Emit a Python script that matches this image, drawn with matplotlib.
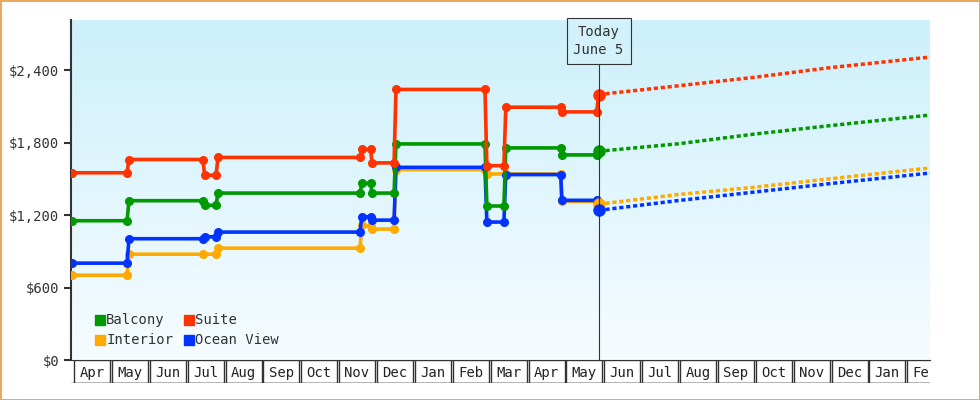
import numpy as np
import matplotlib
matplotlib.use("Agg")
from matplotlib import pyplot as plt
from matplotlib.patches import Rectangle
from matplotlib.colors import LinearSegmentedColormap

plt.rcParams['font.family'] = ['DejaVu Sans Mono']

months = ["Apr", "May", "Jun", "Jul", "Aug", "Sep", "Oct", "Nov", "Dec", "Jan", "Feb", "Mar",
          "Apr", "May", "Jun", "Jul", "Aug", "Sep", "Oct", "Nov", "Dec", "Jan", "Feb"]

# x in months since start of April, y in dollars
suite_x = [0, 1.45, 1.5, 3.45, 3.5, 3.8, 3.85, 7.6, 7.65, 7.88, 7.92, 8.5, 8.55, 10.9, 10.95, 11.4, 11.45, 12.9, 12.93, 13.85, 13.9]
suite_y = [1550, 1550, 1660, 1660, 1530, 1530, 1677, 1677, 1743, 1743, 1632, 1632, 2240, 2240, 1609, 1609, 2093, 2093, 2054, 2054, 2198]
balc_x = suite_x
balc_y = [1153, 1153, 1319, 1319, 1280, 1280, 1382, 1382, 1462, 1462, 1382, 1382, 1789, 1789, 1275, 1275, 1756, 1756, 1698, 1698, 1728]
int_x = [0, 1.45, 1.5, 3.45, 3.8, 3.85, 7.6, 7.65, 7.88, 7.92, 8.5, 8.55, 10.9, 10.95, 11.45, 12.9, 12.93, 13.85, 13.9]
int_y = [702, 702, 876, 876, 876, 926, 926, 1115, 1106, 1084, 1084, 1576, 1576, 1540, 1540, 1540, 1313, 1313, 1290]
ocean_x = suite_x
ocean_y = [802, 802, 1004, 1004, 1020, 1020, 1059, 1059, 1186, 1186, 1158, 1158, 1595, 1595, 1142, 1142, 1535, 1535, 1322, 1322, 1239]

fc_x = [13.9, 16.0, 18.0, 20.0, 22.65]
fc_suite = [2198, 2270, 2340, 2420, 2508]
fc_balc = [1728, 1790, 1870, 1940, 2028]
fc_int = [1290, 1370, 1430, 1500, 1590]
fc_ocean = [1239, 1320, 1390, 1460, 1548]

today_x = 13.9

fig = plt.figure(figsize=(9.8, 4.0), dpi=100)
fig.patch.set_edgecolor('#e8a860')
fig.patch.set_linewidth(2)
ax = fig.add_axes([71/980, 40/400, 859/980, 340/400])
xlim = (-0.03, 22.65)
ylim = (0, 2815)
grad = np.linspace(0, 1, 256).reshape(-1, 1)
cm = LinearSegmentedColormap.from_list('bg', ['#cdf0fb', '#f6fcff'])
ax.imshow(grad, cmap=cm, aspect='auto', origin='upper',
          extent=[xlim[0], xlim[1], ylim[0], ylim[1]], zorder=0)

series = [("Balcony", "#009900", balc_x, balc_y, fc_balc),
          ("Suite", "#ff3300", suite_x, suite_y, fc_suite),
          ("Interior", "#ffaa00", int_x, int_y, fc_int),
          ("Ocean View", "#0033ff", ocean_x, ocean_y, fc_ocean)]
order = [2, 3, 0, 1]
for i in order:
    name, c, xs, ys, fc = series[i]
    ax.plot(xs, ys, color=c, lw=2.6, marker='o', ms=5.5, zorder=3)
    ax.plot(fc_x, fc, color=c, lw=2.5, ls=(0, (1.2, 0.8)), zorder=3)
    ax.plot([xs[-1]], [ys[-1]], 'o', color=c, ms=8, zorder=4)

ax.set_xlim(*xlim)
ax.set_ylim(*ylim)
ax.set_yticks([0, 600, 1200, 1800, 2400])
ax.set_yticklabels(["$0", "$600", "$1,200", "$1,800", "$2,400"], fontsize=10, color='#333333')
ax.set_xticks([])
for s in ['top', 'right']:
    ax.spines[s].set_visible(False)
ax.spines['left'].set_linewidth(1.5)
ax.spines['left'].set_color('#333333')
ax.spines['bottom'].set_color('#333333')
ax.tick_params(axis='y', length=5, width=1.5, color='#333333')

ax.axvline(today_x, ymax=(2815 - 330) / 2815, color='#333333', lw=0.8, zorder=5)
ax.text(today_x, 2640, "Today\nJune 5", ha='center', va='center', fontsize=10, color='#333333',
        linespacing=1.4, bbox=dict(boxstyle='square,pad=0.5', fc='#d2f1fb', ec='#333333', lw=0.8), zorder=6)

# legend
leg = [(0.6, 330, 0), (2.95, 330, 1), (0.6, 165, 2), (2.95, 165, 3)]
for lx, ly, i in leg:
    name, c = series[i][0], series[i][1]
    ax.add_patch(Rectangle((lx, ly - 42), 0.27, 84, color=c, zorder=5))
    ax.text(lx + 0.3, ly, name, va='center', fontsize=10, color='#333333', zorder=5)

# month strip
mx = fig.add_axes([71/980, 17/400, 859/980, 23/400])
mx.set_xlim(*xlim)
mx.set_ylim(0, 1)
mx.axis('off')
for i, m in enumerate(months):
    mx.add_patch(Rectangle((i + 0.05, 0), 0.95, 1, fc='white', ec='#333333', lw=1, clip_on=True))
    mx.text(i + 0.52, 0.45, m, ha='center', va='center', fontsize=10, color='#222222', clip_on=True)
mx.plot(xlim, [0, 0], color='#333333', lw=1)

fig.savefig("out.png", dpi=100)
